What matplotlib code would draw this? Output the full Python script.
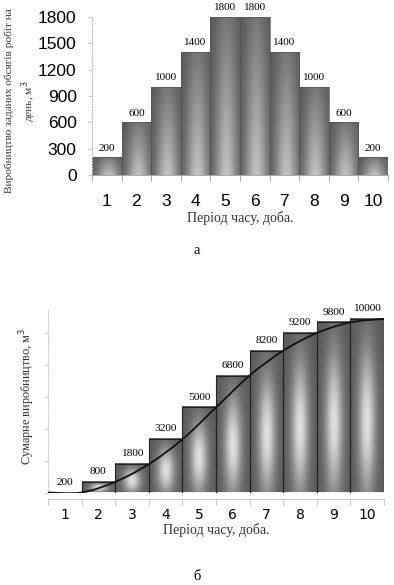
import numpy as np
import matplotlib
matplotlib.use("Agg")
import matplotlib.pyplot as plt
from matplotlib.path import Path
from matplotlib.patches import PathPatch

# дані
periods = [1, 2, 3, 4, 5, 6, 7, 8, 9, 10]
daily = [200, 600, 1000, 1400, 1800, 1800, 1400, 1000, 600, 200]
cumulative = [200, 800, 1800, 3200, 5000, 6800, 8200, 9200, 9800, 10000]
top_yticks = [0, 300, 600, 900, 1200, 1500, 1800]

SERIF = "Liberation Serif"
SANS = "Liberation Sans"


def gradient_bar(ax, x, h, y0, kind):
    nx, ny = 40, 60
    u = np.linspace(0, 1, nx)[None, :]
    v = np.linspace(0, 1, ny)[:, None]
    if kind == "top":
        val = 0.34 + 0.42 * np.exp(-((u - 0.55) / 0.38) ** 2) * (0.3 + 0.7 * (1 - v))
    else:
        val = 0.36 + 0.52 * np.exp(-((u - 0.5) / 0.26) ** 2 - ((v - 0.4) / 0.42) ** 2)
    ax.imshow(val, cmap="gray", vmin=0, vmax=1, origin="lower", aspect="auto",
              extent=(x - 0.5, x + 0.5, y0, h), interpolation="bilinear", zorder=1)


fig = plt.figure(figsize=(3.94, 5.85), dpi=100)

# ---- а: щоденне виробництво
ax1 = fig.add_axes([92 / 394, 1 - 175 / 585, 296 / 394, 158 / 585])
for x, h in zip(periods, daily):
    gradient_bar(ax1, x, h, 0, "top")
    ax1.text(x, h + 55, str(h), ha="center", va="bottom", fontsize=8, family=SERIF)
ax1.bar(periods, daily, width=1.0, facecolor="none", edgecolor="#555555", lw=0.5, zorder=2)
ax1.set_xlim(0.5, 10.5)
ax1.set_ylim(0, 1800)
ax1.set_yticks(top_yticks)
ax1.set_yticklabels([str(t) for t in top_yticks], fontsize=12.5, family=SANS)
ax1.set_xticks(periods)
ax1.set_xticklabels([str(p) for p in periods], fontsize=12.5, family=SANS)
ax1.set_xticks(np.arange(0.5, 11, 1), minor=True)
ax1.tick_params(axis="x", which="major", length=0, pad=14)
ax1.tick_params(axis="x", which="minor", length=4, color="#999999", width=0.6)
ax1.tick_params(axis="y", length=3, color="#bbbbbb", width=0.6, pad=8)
for s in ("top", "right"):
    ax1.spines[s].set_visible(False)
ax1.spines["left"].set_color("#bbbbbb")
ax1.spines["left"].set_linestyle(":")
ax1.spines["bottom"].set_color("#999999")
ax1.spines["bottom"].set_linewidth(0.6)
ax1.set_xlabel("Період часу, доба.", fontsize=10, family=SERIF, labelpad=1, color="#333333")
fig.text(21 / 394, 1 - 101 / 585, "Виробництво заданих обсягів робіт на\nдень, м$^3$",
         rotation=90, ha="center", va="center", fontsize=8.2, family=SERIF,
         color="#333333", linespacing=1.4)
fig.text(0.5, 1 - 250 / 585, "а", ha="center", va="center", fontsize=10.5, family=SERIF)

# ---- б: сумарне виробництво
base = 200
ax2 = fig.add_axes([48 / 394, 1 - 492.5 / 585, 336 / 394, 182.5 / 585])
for x, h in zip(periods, cumulative):
    if h > base:
        gradient_bar(ax2, x, h, base, "bottom")
    ax2.text(x, h + 330, str(h), ha="center", va="bottom", fontsize=8.2, family=SERIF)
ax2.bar(periods, [h - base for h in cumulative], bottom=base, width=1.0,
        facecolor="none", edgecolor="#222222", lw=0.8, zorder=2)

# згладжена крива через правий верхній кут кожного стовпця
px = [0.5] + [p + 0.5 for p in periods]
py = [cumulative[0]] + cumulative
verts = [(px[0], py[0])]
codes = [Path.MOVETO]
n = len(px)
for i in range(n - 1):
    p0 = np.array((px[max(i - 1, 0)], py[max(i - 1, 0)]))
    p1 = np.array((px[i], py[i]))
    p2 = np.array((px[i + 1], py[i + 1]))
    p3 = np.array((px[min(i + 2, n - 1)], py[min(i + 2, n - 1)]))
    c1 = p1 + (p2 - p0) / 6
    c2 = p2 - (p3 - p1) / 6
    verts += [tuple(c1), tuple(c2), tuple(p2)]
    codes += [Path.CURVE4] * 3
ax2.add_patch(PathPatch(Path(verts, codes), facecolor="none", edgecolor="#111111",
                        lw=1.3, zorder=3))

ax2.set_xlim(0.5, 10.5)
ax2.set_ylim(base, 10500)
ax2.set_yticks([200, 2000, 3800, 5600, 7400, 9200])
ax2.set_yticklabels([])
ax2.tick_params(axis="y", length=3, color="#cccccc", width=0.6)
ax2.set_xticks(periods)
ax2.set_xticklabels([str(p) for p in periods], fontsize=12, family=SANS)
ax2.set_xticks(np.arange(0.5, 11, 1), minor=True)
ax2.tick_params(axis="x", which="major", length=0, pad=6)
ax2.tick_params(axis="x", which="minor", length=4, color="#bbbbbb", width=0.6)
for s in ("top", "right"):
    ax2.spines[s].set_visible(False)
ax2.spines["left"].set_color("#cccccc")
ax2.spines["left"].set_linestyle(":")
ax2.spines["bottom"].set_position(("outward", 5))
ax2.spines["bottom"].set_color("#bbbbbb")
ax2.spines["bottom"].set_linewidth(0.6)
ax2.set_xlabel("Період часу, доба.", fontsize=10, family=SERIF, labelpad=1, color="#333333")
fig.text(27 / 394, 1 - 396 / 585, "Сумарне виробництво, м$^3$", rotation=90,
         ha="center", va="center", fontsize=8.8, family=SERIF, color="#333333")
fig.text(0.5, 1 - 577 / 585, "б", ha="center", va="center", fontsize=10.5, family=SERIF)

fig.savefig("out.png", dpi=100)
